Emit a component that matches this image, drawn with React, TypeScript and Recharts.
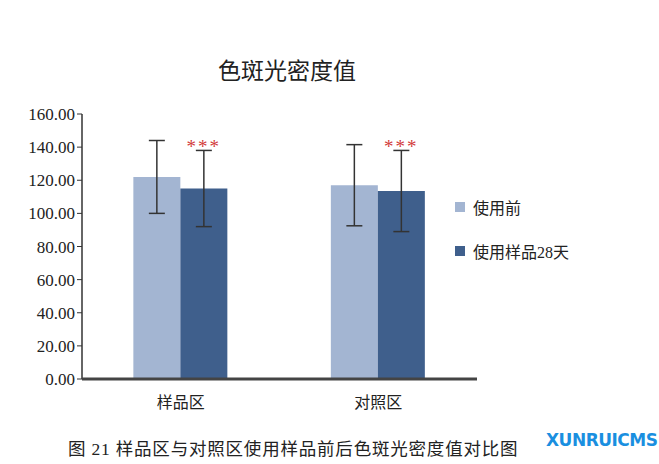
import { BarChart, Bar, XAxis, YAxis, ErrorBar, LabelList } from "recharts";

const categories = ["样品区", "对照区"];
const beforeValues = [122.0, 117.0];
const beforeErrors = [22.0, 24.5];
const afterValues = [115.0, 113.5];
const afterErrors = [23.0, 24.5];
const significance = ["***", "***"];
const yTicks = [0, 20, 40, 60, 80, 100, 120, 140, 160];

const SERIES = [
  { key: "before", name: "使用前", color: "#a3b5d2" },
  { key: "after", name: "使用样品28天", color: "#3f5f8c" },
];

const data = categories.map((c, i) => ({
  name: c,
  before: beforeValues[i],
  beforeErr: beforeErrors[i],
  after: afterValues[i],
  afterErr: afterErrors[i],
  sig: significance[i],
}));

const FONT = '"Liberation Serif", "Noto Sans CJK SC", serif';

// *** drawn just above the top of the error bar
const StarLabel = (props: any) => {
  const { x, y, width, height, index } = props;
  const d = data[index];
  if (!d || !d.sig) return null;
  const pxPerUnit = height / d.after;
  const top = y - d.afterErr * pxPerUnit;
  return (
    <text x={x + width / 2} y={top + 3} textAnchor="middle" fill="#d23a3a" fontSize={19} fontFamily={FONT} letterSpacing={2}>
      {d.sig}
    </text>
  );
};

export default function App() {
  return (
    <div style={{ position: "absolute", left: 0, top: 0, width: 659, height: 464, background: "#fff", fontFamily: FONT }}>
      <div style={{ position: "absolute", left: 0, width: 574, top: 52, textAlign: "center", fontSize: 23, color: "#222" }}>
        色斑光密度值
      </div>
      <BarChart
        width={659}
        height={464}
        data={data}
        margin={{ top: 114, right: 182, bottom: 55, left: 12 }}
        barCategoryGap="26%"
        barGap={0}
      >
        <YAxis
          domain={[0, 160]}
          ticks={yTicks}
          width={70}
          interval={0}
          tickFormatter={(v: number) => v.toFixed(2)}
          tick={{ fontSize: 17, fill: "#222", fontFamily: FONT }}
          axisLine={{ stroke: "#333", strokeWidth: 1.5 }}
          tickLine={{ stroke: "#333" }}
          tickSize={5}
        />
        <XAxis
          dataKey="name"
          height={30}
          tick={{ fontSize: 16, fill: "#222", fontFamily: FONT }}
          axisLine={{ stroke: "#444", strokeWidth: 3 }}
          tickLine={false}
          tickMargin={12}
        />
        <Bar dataKey="before" name="使用前" fill={SERIES[0].color} isAnimationActive={false}>
          <ErrorBar dataKey="beforeErr" width={8} stroke="#333" strokeWidth={1.5} />
        </Bar>
        <Bar dataKey="after" name="使用样品28天" fill={SERIES[1].color} isAnimationActive={false}>
          <ErrorBar dataKey="afterErr" width={8} stroke="#333" strokeWidth={1.5} />
          <LabelList dataKey="sig" content={StarLabel} />
        </Bar>
      </BarChart>
      <div style={{ position: "absolute", left: 455, top: 195, fontSize: 16, color: "#222" }}>
        {SERIES.map((s, i) => (
          <div key={s.key} style={{ display: "flex", alignItems: "center", marginBottom: i === 0 ? 20 : 0 }}>
            <span style={{ width: 10, height: 10, background: s.color, display: "inline-block", marginRight: 8 }} />
            <span>{s.name}</span>
          </div>
        ))}
      </div>
      <div style={{ position: "absolute", left: 68, top: 435, fontSize: 17.5, color: "#222", letterSpacing: 0.8 }}>
        图 21 样品区与对照区使用样品前后色斑光密度值对比图
      </div>
      <div style={{ position: "absolute", left: 546, top: 430, fontSize: 17, fontWeight: 700, color: "#1a8fe0", fontFamily: '"DejaVu Sans", sans-serif', letterSpacing: -0.5 }}>
        XUNRUICMS
      </div>
    </div>
  );
}
